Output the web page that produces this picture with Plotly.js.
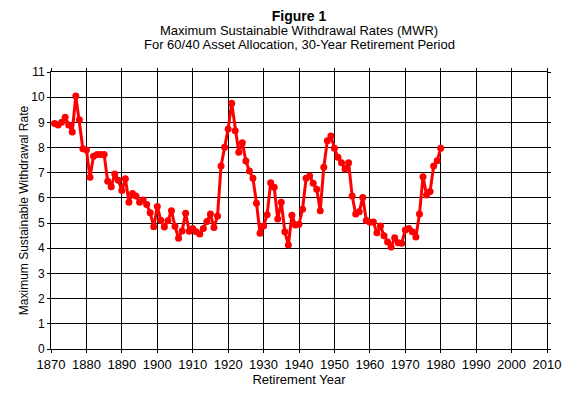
<!DOCTYPE html>
<html>
<head>
<meta charset="utf-8">
<script src="https://cdn.plot.ly/plotly-3.0.1.min.js"></script>
<style>html,body{margin:0;padding:0;background:#fff;}#chart{width:564px;height:396px;}</style>
</head>
<body>
<div id="chart"></div>
<script>
var years = [];
for (var yr = 1871; yr <= 1980; yr++) years.push(yr);
var mwr = [
  8.95, 8.90, 9.00, 9.20, 8.90, 8.62, 10.05, 9.10, 7.95, 7.90,
  6.82, 7.65, 7.72, 7.72, 7.72, 6.66, 6.44, 6.95, 6.70, 6.29,
  6.76, 5.83, 6.18, 6.08, 5.83, 5.92, 5.74, 5.41, 4.85, 5.66,
  5.11, 4.84, 5.09, 5.49, 4.87, 4.40, 4.69, 5.39, 4.68, 4.79,
  4.66, 4.57, 4.79, 5.06, 5.36, 4.82, 5.28, 7.27, 8.01, 8.74,
  9.76, 8.67, 7.81, 8.19, 7.47, 7.07, 6.78, 5.79, 4.60, 4.88,
  5.33, 6.60, 6.42, 5.16, 5.83, 4.66, 4.13, 5.31, 4.92, 4.95,
  5.55, 6.78, 6.87, 6.58, 6.34, 5.49, 7.22, 8.27, 8.46, 7.97,
  7.61, 7.40, 7.15, 7.40, 6.08, 5.36, 5.45, 6.02, 5.10, 5.03,
  5.04, 4.62, 4.88, 4.50, 4.25, 4.05, 4.42, 4.22, 4.20, 4.73,
  4.79, 4.66, 4.45, 5.36, 6.84, 6.12, 6.25, 7.27, 7.48, 7.97
];
var xTicks = [1870,1880,1890,1900,1910,1920,1930,1940,1950,1960,1970,1980,1990,2000,2010];
var yTicks = [0,1,2,3,4,5,6,7,8,9,10,11];
var subtitleLines = [
  'Maximum Sustainable Withdrawal Rates (MWR)',
  'For 60/40 Asset Allocation, 30-Year Retirement Period'
];

var fontFam = '"Liberation Sans", Arial, sans-serif';
var trace = {
  x: years, y: mwr, type: 'scatter', mode: 'lines+markers',
  line: {color: '#FF0000', width: 3},
  marker: {color: '#FF0000', size: 7, symbol: 'circle'},
  hoverinfo: 'x+y', showlegend: false
};
var layout = {
  width: 564, height: 396,
  margin: {l: 51, r: 17, t: 72, b: 47},
  paper_bgcolor: '#ffffff', plot_bgcolor: '#ffffff',
  font: {family: fontFam, size: 12, color: '#000'},
  title: {
    text: '<b>Figure 1</b>',
    font: {family: fontFam, size: 14, color: '#000'},
    xref: 'paper', x: 0.5, xanchor: 'center',
    yref: 'container', y: 1 - 16/396, yanchor: 'middle'
  },
  annotations: [
    {text: subtitleLines[0], xref: 'paper', yref: 'paper', x: 0.5, y: 1.1516,
     xanchor: 'center', yanchor: 'middle', showarrow: false,
     font: {family: fontFam, size: 13, color: '#000'}},
    {text: subtitleLines[1], xref: 'paper', yref: 'paper', x: 0.5, y: 1.0993,
     xanchor: 'center', yanchor: 'middle', showarrow: false,
     font: {family: fontFam, size: 13, color: '#000'}}
  ],
  xaxis: {
    range: [1870, 2010], tickvals: xTicks, ticktext: xTicks.map(String),
    showgrid: true, gridcolor: '#000', gridwidth: 1,
    showline: true, linecolor: '#000', linewidth: 1, mirror: 'ticks',
    ticks: 'outside', ticklen: 3, tickcolor: '#000',
    zeroline: false,
    tickfont: {family: fontFam, size: 13, color: '#000'},
    title: {text: 'Retirement Year', font: {family: fontFam, size: 13, color: '#000'}, standoff: 0}
  },
  yaxis: {
    range: [0, 11], tickvals: yTicks, ticktext: yTicks.map(String),
    showgrid: true, gridcolor: '#000', gridwidth: 1,
    showline: true, linecolor: '#000', linewidth: 1, mirror: 'ticks',
    ticks: 'outside', ticklen: 3, tickcolor: '#000',
    zeroline: false,
    tickfont: {family: fontFam, size: 12, color: '#000'},
    title: {text: 'Maximum Sustainable Withdrawal Rate', font: {family: fontFam, size: 12, color: '#000'}, standoff: 0}
  }
};
Plotly.newPlot('chart', [trace], layout, {displayModeBar: false, staticPlot: true});
</script>
</body>
</html>
